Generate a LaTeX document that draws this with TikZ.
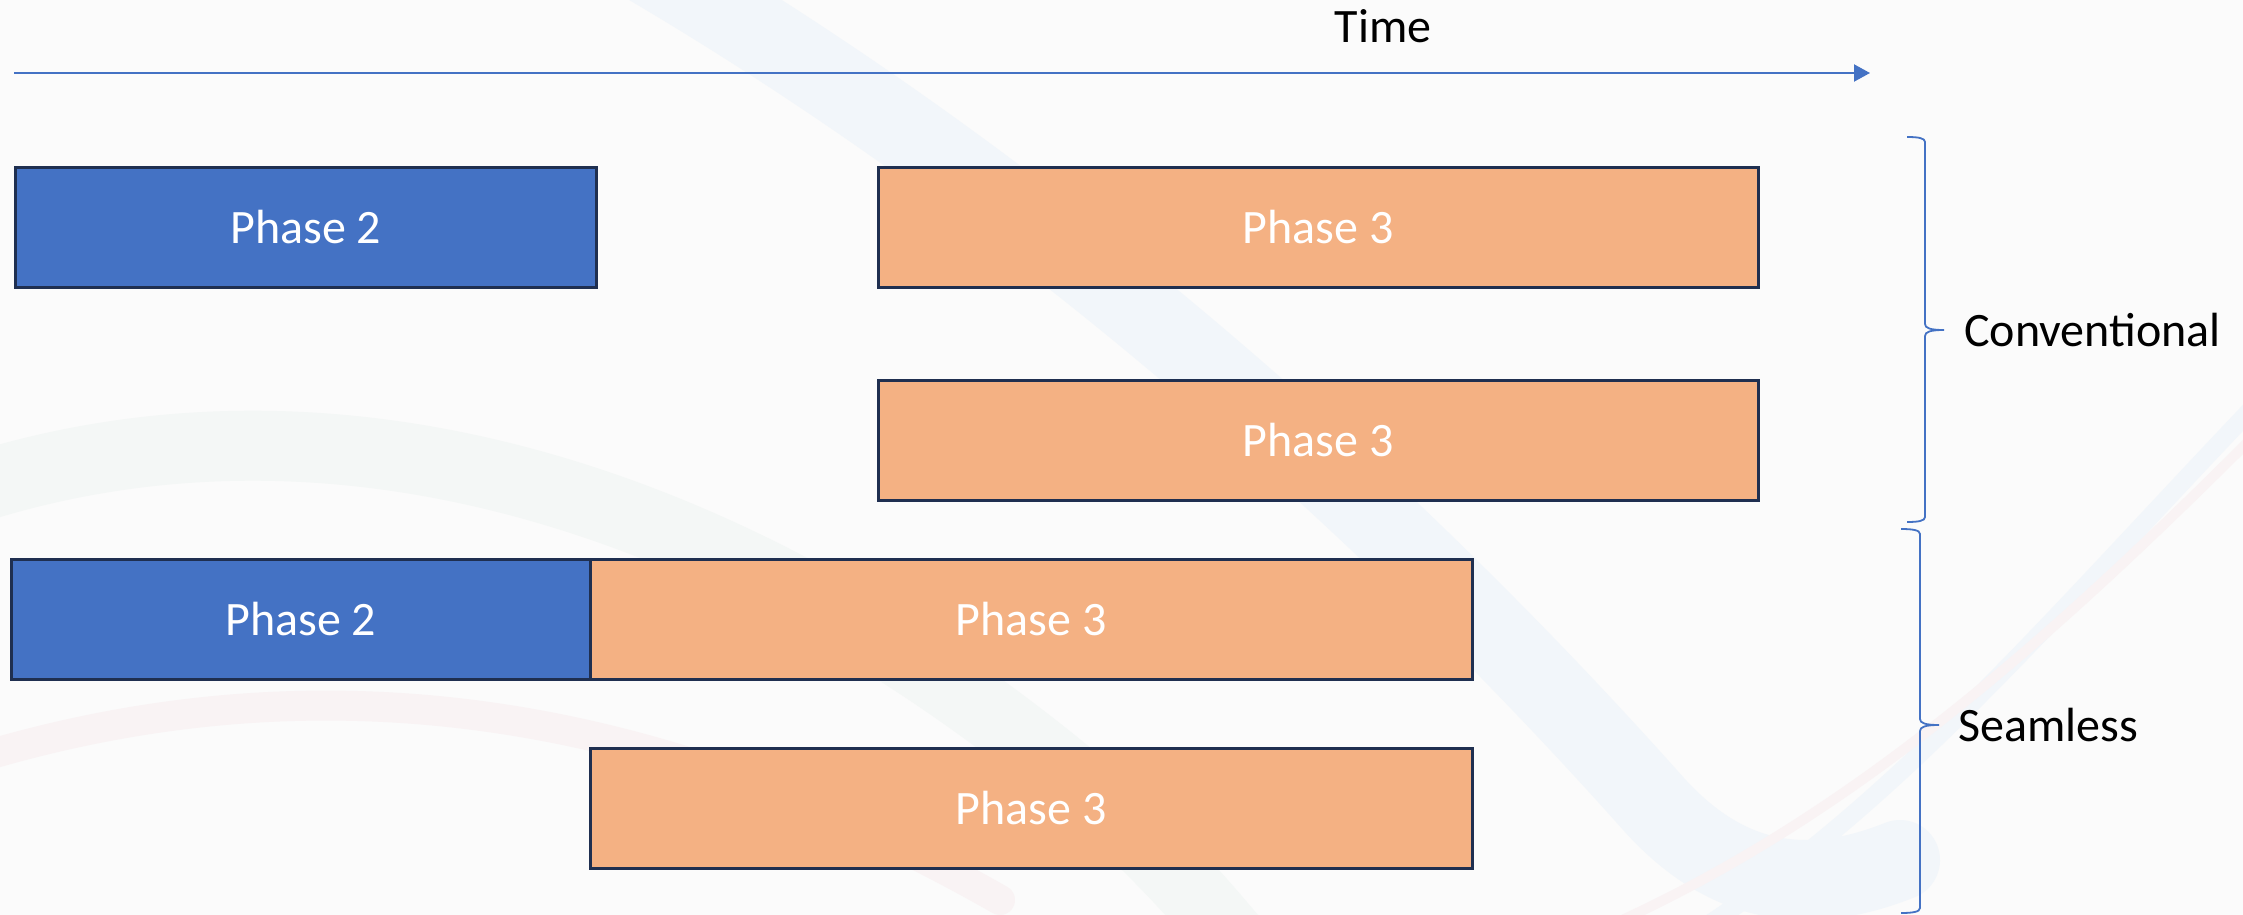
\documentclass[tikz,border=0pt]{standalone}
\usepackage{fontspec}
\setmainfont{Carlito}
\usetikzlibrary{arrows.meta}
\definecolor{pblue}{HTML}{4472C4}
\definecolor{porange}{HTML}{F4B183}
\definecolor{pedge}{HTML}{1F2F50}
\definecolor{bg}{HTML}{FBFBFB}
\definecolor{swblue}{HTML}{F2F6FA}
\definecolor{swgreen}{HTML}{F4F7F6}
\definecolor{swred}{HTML}{F9F3F4}
\tikzset{
  phasebox/.style={draw=pedge, line width=2.5pt, minimum height=120pt, inner sep=0pt,
    text=white, font=\fontsize{48}{54}\selectfont, anchor=north west},
  bluebox/.style={phasebox, fill=pblue},
  orangebox/.style={phasebox, fill=porange},
  lbl/.style={text=black, font=\fontsize{48}{54}\selectfont, inner sep=0pt},
  bracepath/.style={draw=pblue, line width=1.8pt},
  swoosh/.style={line cap=round}
}
\begin{document}
\begin{tikzpicture}[x=1pt,y=-1pt]
\useasboundingbox (0,0) rectangle (2243,915);
\fill[bg] (0,0) rectangle (2243,915);
% faint background swooshes
\draw[swoosh, draw=swblue, line width=80pt] (640,-40) .. controls (1050,200) and (1400,520) .. (1650,800) .. controls (1720,880) and (1800,900) .. (1900,860);
\draw[swoosh, draw=swgreen, line width=70pt] (-60,500) .. controls (300,370) and (700,480) .. (1050,760) .. controls (1150,840) and (1200,900) .. (1250,960);
\draw[swoosh, draw=swred, line width=30pt] (-60,770) .. controls (300,650) and (650,700) .. (1000,900);
\draw[swoosh, draw=swblue, line width=18pt] (2260,400) .. controls (2050,620) and (1900,800) .. (1700,930);
\draw[swoosh, draw=swred, line width=10pt] (2260,430) .. controls (2050,640) and (1850,820) .. (1600,930);
% time axis
\node[lbl] (time) at (1383,26) {Time};
\coordinate (t0) at (14,73);
\coordinate (t1) at (1870,73);
\draw[draw=pblue, line width=2pt, -{Triangle[length=16pt,width=17pt]}] (t0) -- (t1);
% conventional
\node[bluebox, minimum width=581pt] (c2) at (14,166) {Phase 2};
\node[orangebox, minimum width=880pt] (c3a) at (877,166) {Phase 3};
\node[orangebox, minimum width=880pt] (c3b) at (877,379) {Phase 3};
% seamless
\node[bluebox, minimum width=579pt] (s2) at (10,558) {Phase 2};
\node[orangebox, minimum width=882pt] (s3a) at (589,558) {Phase 3};
\node[orangebox, minimum width=882pt] (s3b) at (589,747) {Phase 3};
% braces
\draw[bracepath] (1907,137) .. controls (1918,137) and (1925,138) .. (1925,142)
  -- (1925,324) .. controls (1925,328) and (1930,330) .. (1944,330)
  .. controls (1930,330) and (1925,332) .. (1925,336)
  -- (1925,517) .. controls (1925,521) and (1918,522) .. (1907,522);
\draw[bracepath] (1901,529) .. controls (1912,529) and (1920,530) .. (1920,534)
  -- (1920,719) .. controls (1920,723) and (1925,725) .. (1939,725)
  .. controls (1925,725) and (1920,727) .. (1920,731)
  -- (1920,908) .. controls (1920,912) and (1912,913) .. (1901,913);
\node[lbl, anchor=west] (conv) at (1964,330) {Conventional};
\node[lbl, anchor=west] (seam) at (1958,725) {Seamless};
\end{tikzpicture}
\end{document}
